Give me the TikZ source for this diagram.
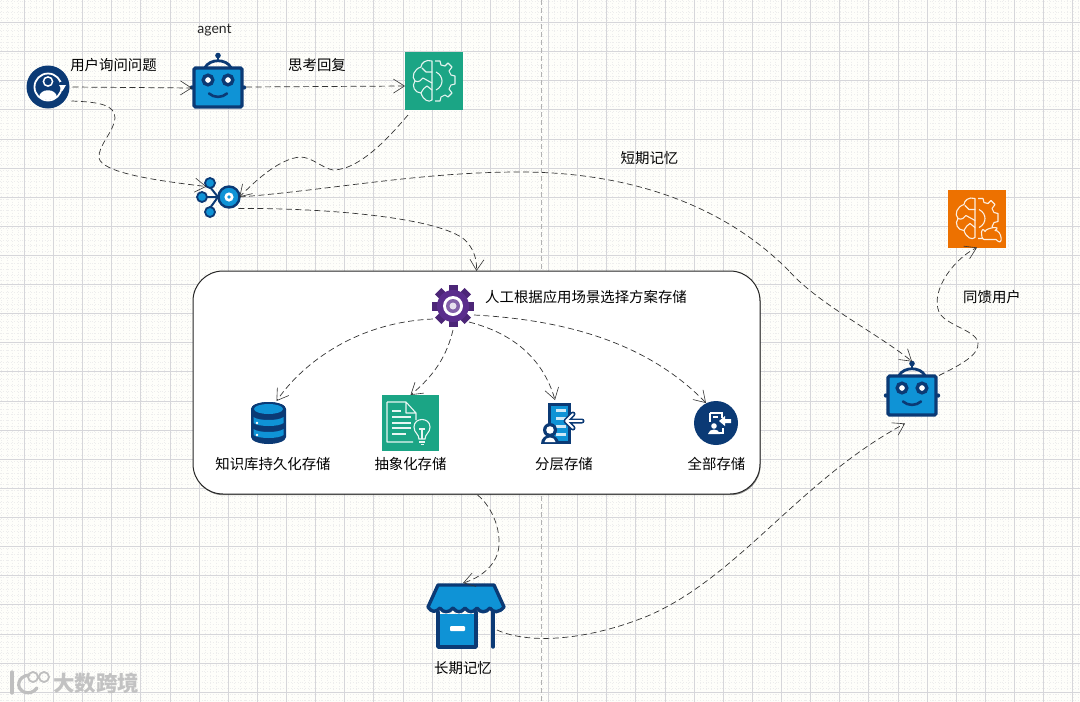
\documentclass[tikz,border=0pt]{standalone}
\usepackage{fontspec}
\setmainfont{Noto Sans CJK SC}
\newfontfamily\hand{Lato}
\usetikzlibrary{arrows.meta,shadows}
\definecolor{navy}{HTML}{0B3A75}
\definecolor{sky}{HTML}{0F93D6}
\definecolor{teal}{HTML}{1BA585}
\definecolor{amber}{HTML}{ED7100}
\definecolor{grape}{HTML}{5A2D8C}
\definecolor{paper}{HTML}{FEFEFA}
\definecolor{gridmajor}{HTML}{D6D6DA}
\definecolor{gridminor}{HTML}{EDEDED}
\tikzset{
  x=1pt,y=-1pt,
  lbl/.style={font=\fontsize{14.4}{16}\selectfont,text=black,inner sep=0pt},
  spot/.style={inner sep=0pt,outer sep=0pt},
  link/.style={draw=black!80,line width=.7pt,dash pattern=on 6pt off 3.5pt,
    -{Straight Barb[length=11pt,width=14pt,line width=.6pt]}},
  robotpic/.pic={
    \draw[navy,line width=2.8pt] (-13,-20) .. controls (-8,-29) and (8,-29) .. (13,-20);
    \fill[navy] (0,-32) circle (2.8);
    \draw[navy,line width=1.8pt] (0,-32) -- (0,-26);
    \fill[navy] (-26,0) circle (2.2) (26,0) circle (2.2);
    \draw[navy,fill=sky,line width=3.2pt,rounded corners=1.5pt] (-24,-19.5) rectangle (24,19.5);
    \draw[navy,line width=3.4pt,fill=white] (-10,-7.5) circle (4.8) (10,-7.5) circle (4.8);
    \draw[navy,line width=2.6pt,line cap=round] (-9,6) .. controls (-4,10.5) and (4,10.5) .. (9,6);
  },
  brainpic/.pic={
    \begin{scope}[draw=white!88!#1,line width=1.1pt,line join=round,line cap=round]
    \draw (-2,-20) .. controls (-8,-22) and (-13,-18) .. (-13,-14)
      .. controls (-20,-12) and (-23,-4) .. (-19,0)
      .. controls (-23,5) and (-19,12) .. (-13,12)
      .. controls (-11,19) and (-5,22) .. (-2,19) -- cycle;
    \draw (-2,-9) -- (-8,-9) -- (-12,-13);
    \draw (-19,0) .. controls (-15,2) and (-13,-1) .. (-11,-3) -- (-2,2);
    \draw (-13,12) .. controls (-11,8) and (-9,6) .. (-7,5) -- (-2,9);
    \end{scope}
  },
  gearhalf/.pic={
    \draw[white!88!#1,line width=1.1pt,line join=round]
      (1,-20) -- (6,-20) -- (7,-16) -- (11,-15) -- (14,-18) -- (18,-14) -- (15,-10) -- (17,-6) -- (21,-5) -- (21,3)
      -- (17,4) -- (15,8) -- (18,12) -- (14,16) -- (11,14) -- (7,16) -- (6,20) -- (1,20);
    \draw[white!88!#1,line width=1.1pt] (2,-9) .. controls (10,-5) and (10,5) .. (2,9);
  },
}
\begin{document}
\begin{tikzpicture}
\useasboundingbox (0,0) rectangle (1080,702);
\fill[paper] (0,0) rectangle (1080,702);
% grid
\foreach \k in {0,...,186}{
  \draw[gridminor,line width=.5pt,dash pattern=on .8pt off 2pt] ({1.0+\k*5.825},0) -- ({1.0+\k*5.825},702);
}
\foreach \k in {0,...,121}{
  \draw[gridminor,line width=.5pt,dash pattern=on .8pt off 2pt] (0,{1.0+\k*5.825}) -- (1080,{1.0+\k*5.825});
}
\foreach \k in {0,...,37}{
  \draw[gridmajor,line width=.7pt] ({24.3+\k*29.12},0) -- ({24.3+\k*29.12},702);
}
\foreach \k in {0,...,24}{
  \draw[gridmajor,line width=.7pt] (0,{22.4+\k*29.12}) -- (1080,{22.4+\k*29.12});
}
\draw[black!30,line width=.8pt,dash pattern=on 5pt off 3pt] (541,0) -- (541,702);

% panel
\node[spot,name=panel,draw=black!85,line width=1pt,fill=white,rounded corners=30pt,
  minimum width=567pt,minimum height=223pt,drop shadow={shadow xshift=.6pt,shadow yshift=-1.2pt,opacity=.45,fill=black}] at (476.5,382.5) {};

% user
\node[spot,name=user,circle,minimum size=43pt,fill=navy] at (48,87) {};
\draw[white,line width=1.8pt] (48,87) circle (13.5);
\fill[navy] (60,82) rectangle (64,85);
\fill[white] (59,85) -- (66,85) -- (62.5,91) -- cycle;
\fill[white] (39,97) .. controls (40,88) and (56,88) .. (57,97) .. controls (52,101) and (44,101) .. (39,97);
\draw[white,line width=1.5pt,fill=navy] (48,81.5) circle (4.6);

% robots
\node[spot,name=agent,minimum width=52pt,minimum height=42pt] at (218,87.5) {};
\pic at (agent) {robotpic};
\node[spot,name=replier,minimum width=52pt,minimum height=42pt] at (912,395.5) {};
\pic at (replier) {robotpic};

% green brain
\node[spot,name=brain,fill=teal,minimum size=58pt] at (434,81) {};
\pic at (brain) {brainpic=teal};
\pic at (brain) {gearhalf=teal};

% orange brain
\node[spot,name=obrain,fill=amber,minimum size=58pt] at (977,218.5) {};
\pic at (obrain) {brainpic=amber};
\pic at (obrain) {gearhalf=amber};
\draw[white!88!amber,fill=amber,line width=1.1pt,line join=round] (obrain) ++(7,21)
  .. controls +(-4,-1) and +(-4,-7) .. ++(1,-8)
  .. controls +(1,-4) and +(8,-5) .. ++(10,-1)
  .. controls +(7,-1) and +(8,9) .. ++(1,9) -- cycle;

% hub
\node[spot,name=hub,circle,minimum size=21pt,fill=sky,draw=navy,line width=2.4pt] at (229,197) {};
\fill[white] (229,197) circle (4.6);
\fill[sky] (229,197) circle (1.9);
\draw[navy,line width=2pt] (hub) ++(-11,0) -- (206,197) (210,187) -- (218,197) -- (210,208);
\node[spot,name=hubA,circle,minimum size=10pt,fill=sky,draw=navy,line width=1.8pt] at (210,183) {};
\node[spot,name=hubB,circle,minimum size=10pt,fill=sky,draw=navy,line width=1.8pt] at (202,197) {};
\node[spot,name=hubC,circle,minimum size=10pt,fill=sky,draw=navy,line width=1.8pt] at (210,212) {};

% gear
\node[spot,name=gear,circle,minimum size=34pt] at (453,306) {};
\foreach \a in {0,45,...,315}{
  \fill[grape!85!black,rotate around={\a:(453,306)}] (448.5,285) rectangle (457.5,292);
}
\fill[grape] (453,306) circle (16);
\fill[white] (453,306) circle (10);
\fill[grape!75!white] (453,306) circle (7);
\fill[white!85!grape] (453,306) circle (3.5);

% database
\node[spot,name=db,minimum width=35pt,minimum height=42pt] at (268.5,423) {};
\fill[navy] (251,409) arc[start angle=180,end angle=360,x radius=17.5,y radius=7] -- (286,437) arc[start angle=0,end angle=180,x radius=17.5,y radius=7] -- cycle;
\fill[navy] (268.5,409) ellipse[x radius=17.5,y radius=7];
\fill[sky] (268.5,409) ellipse[x radius=14.5,y radius=5];
\foreach \y in {417,429}{
  \fill[sky] (253.5,\y) .. controls (258,\y+4) and (279,\y+4) .. (283.5,\y) -- (283.5,\y+6) .. controls (279,\y+10) and (258,\y+10) .. (253.5,\y+6) -- cycle;
  \fill[white] (257,\y+6) circle (1.3);
}

% document with bulb
\node[spot,name=doc,fill=teal,minimum width=57pt,minimum height=56pt] at (410.5,423) {};
\draw[white!90!teal,line width=1.1pt,line join=round] (387,402) -- (406,402) -- (416,413) -- (416,420) (406,402) -- (406,413) -- (416,413)
  (387,402) -- (387,442) -- (413,442);
\draw[white!90!teal,line width=1.1pt] (392,411) -- (401,411) (392,417) -- (411,417) (392,423) -- (411,423) (392,428) -- (411,428) (392,434) -- (406,434);
\draw[white!90!teal,line width=1.1pt] (419,439) .. controls (419,434) and (414,433) .. (414,427) .. controls (414,417) and (430,417) .. (430,427) .. controls (430,433) and (425,434) .. (425,439) -- cycle;
\draw[white!90!teal,line width=1.1pt] (419,442) -- (425,442) (420.5,444.5) -- (423.5,444.5) (422,439) -- (422,429) (419,429) -- (425,429);

% tiered
\node[spot,name=tier,minimum width=44pt,minimum height=41pt] at (563,423.5) {};
\fill[navy] (548,403) rectangle (571,444);
\fill[sky] (551,406) rectangle (568,441);
\foreach \y in {409,417,425,433}{\fill[white!80!sky] (556,\y) rectangle (566,\y+3);}
\fill[navy] (541,444) .. controls (541,432) and (559,432) .. (559,444) -- cycle;
\fill[navy] (550,430) circle (7);
\fill[white] (550,430) circle (3.8);
\fill[white] (544.5,442) .. controls (545,436) and (555,436) .. (555.5,442) -- cycle;
\draw[navy,line width=5pt,line cap=round,line join=round] (582,421) -- (567,421) (573,414) -- (566,421) -- (573,428);
\draw[white,line width=1.8pt,line cap=round,line join=round] (582,421) -- (567,421) (573,414) -- (566,421) -- (573,428);

% all storage
\node[spot,name=all,circle,fill=navy,minimum size=44pt] at (716,423) {};
\draw[white,line width=1.1pt] (710,413) -- (722,413) -- (722,418) (710,413) -- (710,422) (716,433) -- (723,433) -- (723,428)
  (713,417) -- (718,417);
\fill[white] (719,421) -- (725,416) -- (725,419) -- (731,419) -- (731,423) -- (725,423) -- (725,426) -- cycle;
\fill[white] (714,426) circle (2.8);
\fill[white] (708,434) .. controls (709,428) and (719,428) .. (720,434) -- cycle;

% store
\node[spot,name=store,minimum width=78pt,minimum height=64pt] at (466,615) {};
\fill[sky] (439,614) rectangle (475,646);
\draw[navy,line width=3.4pt,line cap=round,line join=round] (438,612) -- (438,647) -- (476,647) -- (476,612);
\draw[navy,line width=3.4pt,line cap=round] (493,612) -- (493,647);
\fill[sky,draw=navy,line width=3.4pt,line join=round] (438,585) -- (494,585) -- (504,607)
  .. controls (499,613) and (493,613) .. (490,608) .. controls (486,613) and (480,613) .. (477,608)
  .. controls (473,613) and (469,613) .. (465,608) .. controls (461,613) and (457,613) .. (453,608)
  .. controls (449,613) and (443,613) .. (440,608) .. controls (436,613) and (431,612) .. (428,607) -- cycle;
\fill[white,rounded corners=1pt] (450,626) rectangle (465,631);

% labels
\node[lbl,name=tUser] at (113.5,65) {用户询问问题};
\node[spot,name=tAgent,font=\hand\fontsize{14}{16}\selectfont,text=black!85] at (214.5,30) {agent};
\node[lbl,name=tThink] at (317,65) {思考回复};
\node[lbl,name=tShort] at (649.5,158) {短期记忆};
\node[lbl,name=tBack] at (992,297) {同馈用户};
\node[lbl,name=tHuman] at (586,297) {人工根据应用场景选择方案存储};
\node[lbl,name=tA] at (273,464) {知识库持久化存储};
\node[lbl,name=tB] at (410.5,464) {抽象化存储};
\node[lbl,name=tC] at (564,464) {分层存储};
\node[lbl,name=tD] at (716.5,464) {全部存储};
\node[lbl,name=tLong] at (463,668) {长期记忆};

% connectors (yshift is canvas-up, hence negative = further down the page)
\draw[link] (user.east) ++(3,0) -- ([yshift=-0.5pt]agent.west);
\draw[link] (agent.east) ++(2,-0.5) -- ([yshift=-5pt]brain.west);
\draw[link] (user.east) ++(2,14) .. controls (100,102) and (115,105) .. (115,118)
  .. controls (114,132) and (98,145) .. (99,158) .. controls (102,172) and (150,180) .. (hubA.south west);
\draw[link] (brain.south west) ++(3,5) .. controls (395,130) and (362,170) .. (333,170)
  .. controls (322,168) and (312,157) .. (300,157) .. controls (280,159) and (258,178) .. (hub.east);
\draw[link,-] (hub.east) .. controls (330,190) and (420,172) .. (520,172)
  .. controls (620,172) and (720,200) .. (790,272);
\draw[link] (790,272) .. controls (820,305) and (880,335) .. ([yshift=13pt]replier.north);
\draw[link] (hub.south east) ++(2,4) .. controls (330,208) and (440,218) .. (465,240)
  .. controls (473,248) and (477,258) .. (panel.north);
\draw[link] (gear.south west) ++(-8,1) .. controls (360,322) and (305,360) .. ([xshift=8pt,yshift=1pt]db.north);
\draw[link] (gear.south) ++(0,7) .. controls (447,355) and (435,375) .. (doc.north);
\draw[link] (gear.south east) ++(4,4) .. controls (520,335) and (545,365) .. ([xshift=-8pt,yshift=3pt]tier.north);
\draw[link] (gear.east) ++(4,9) .. controls (570,320) and (650,345) .. ([xshift=-10pt,yshift=-2pt]all.north);
\draw[link] (panel.south) ++(1,1) .. controls (490,505) and (500,525) .. (499,545)
  .. controls (498,565) and (480,578) .. ([xshift=-3pt]store.north);
\draw[link] (store.east) ++(-8,15) .. controls (530,645) and (590,640) .. (650,615)
  .. controls (740,575) and (800,480) .. ([xshift=-7pt,yshift=-7pt]replier.south);
\draw[link] (replier.north east) ++(1,1) .. controls (960,365) and (980,355) .. (978,342)
  .. controls (975,330) and (945,325) .. (939,312)
  .. controls (930,290) and (955,258) .. (obrain.south);

% watermark
\draw[white!75!black,line width=3.2pt,line cap=round] (12,672) -- (12,693);
\draw[white!75!black,line width=3.2pt,line cap=round] (29,675) .. controls (18,676) and (15,688) .. (24,692) .. controls (29,694) and (34,692) .. (37,688);
\draw[white!75!black,line width=1.8pt] (33,677) circle (5) (44,677) circle (5);
\node[spot,name=mark,font=\bfseries\fontsize{21.5}{23}\selectfont,text=white!76!black] at (96,683) {大数跨境};
\end{tikzpicture}
\end{document}
